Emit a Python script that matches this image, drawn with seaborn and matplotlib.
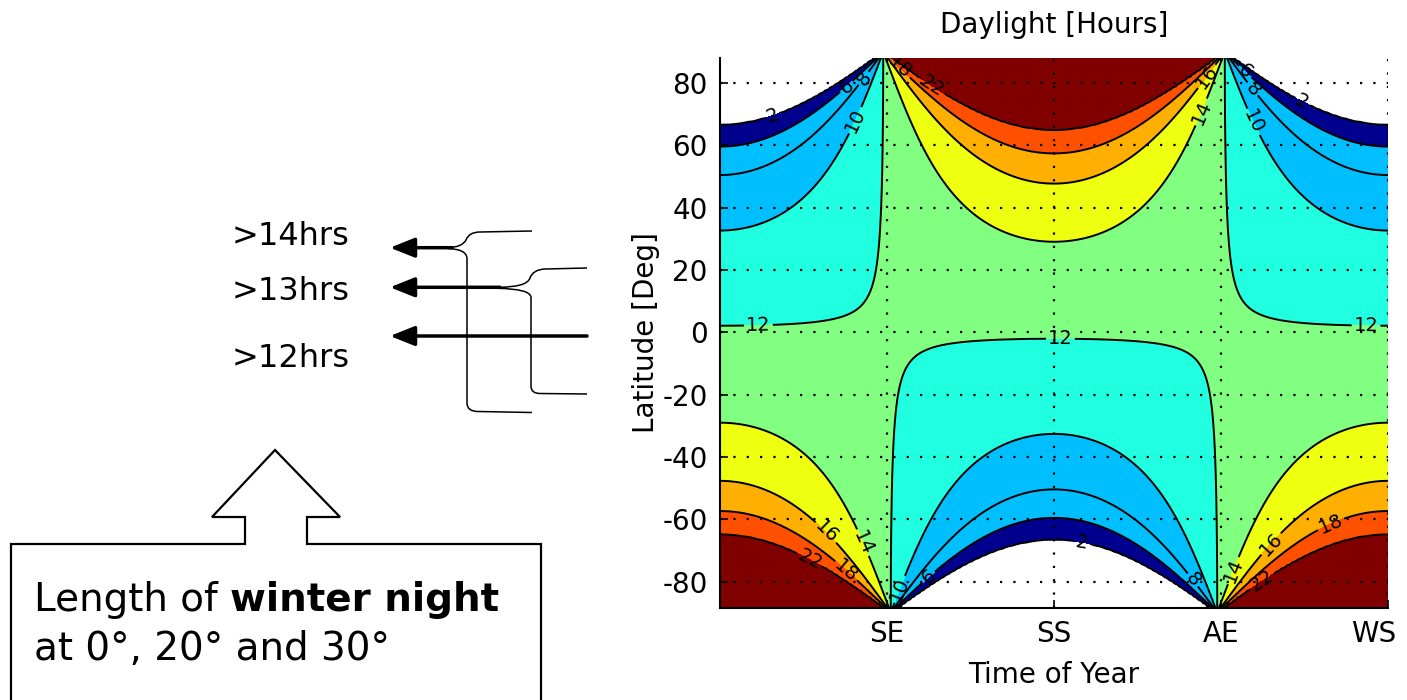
import numpy as np
import matplotlib
matplotlib.use("Agg")
import matplotlib.pyplot as plt
import matplotlib.transforms as mtransforms
import seaborn as sns
from matplotlib.colors import ListedColormap
from matplotlib.path import Path
from matplotlib.patches import PathPatch

# ---- daylight model constants ----
tilt_deg = 23.44          # earth axial tilt
horizon_deg = -0.833      # sun centre at sunrise/sunset (refraction)
year_days = 365

# contour levels (hours) and the band colours between them
hour_levels = [2, 6, 8, 10, 12, 14, 16, 18, 22]
band_colors = ["#00008f", "#0050ff", "#00bfff", "#20ffdf", "#80ff80",
               "#efff10", "#ffaf00", "#ff5000", "#800000"]

lat_ticks = [-80, -60, -40, -20, 0, 20, 40, 60, 80]
season_ticks = [91.25, 182.5, 273.75, 365]
season_labels = ["SE", "SS", "AE", "WS"]

hrs_labels = [">14hrs", ">13hrs", ">12hrs"]
box_plain = "Length of "
box_bold = "winter night"
box_line2 = "at 0\u00b0, 20\u00b0 and 30\u00b0"

# ---- compute day length grid (days since winter solstice x latitude) ----
days = np.arange(0, year_days + 1)
lats = np.linspace(-89.5, 89.5, 180)
T, L = np.meshgrid(days, lats)
decl = np.radians(-tilt_deg * np.cos(2 * np.pi * T / year_days))
phi = np.radians(L)
cos_h = (np.sin(np.radians(horizon_deg)) - np.sin(phi) * np.sin(decl)) / (np.cos(phi) * np.cos(decl))
daylight = 2 * np.degrees(np.arccos(np.clip(cos_h, -1, 1))) / 15.0

# ---- figure ----
sns.set_theme(style="white")
plt.rcParams["font.family"] = ["DejaVu Sans"]
plt.rcParams["axes.unicode_minus"] = False
for key in ["text.color", "axes.labelcolor", "xtick.color", "ytick.color"]:
    plt.rcParams[key] = "black"

W, H = 1407, 700
fig = plt.figure(figsize=(W / 100, H / 100), dpi=100)
ax = fig.add_axes([720 / W, 1 - 608 / H, 668 / W, 550 / H])

cmap = ListedColormap(sns.color_palette(band_colors))
fill_levels = hour_levels + [24.5]
ax.contourf(T, L, daylight, levels=fill_levels, cmap=cmap, vmin=2, vmax=24.5)
cs = ax.contour(T, L, daylight, levels=hour_levels, colors="black", linewidths=1.4)
ax.clabel(cs, fmt="%d", fontsize=14, inline=True, inline_spacing=2)

ax.set_xlim(0, year_days)
ax.set_ylim(-88.5, 88)
ax.set_xticks(season_ticks)
ax.set_xticklabels(season_labels)
ax.set_yticks(lat_ticks)
ax.tick_params(direction="in", length=6, width=1.2, labelsize=20, pad=9, colors="black",
               left=True, bottom=True)
ax.set_axisbelow(False)
ax.grid(True, color="black", linestyle=(0, (1, 5)), linewidth=1.6)
sns.despine(ax=ax, top=True, right=True)
for s in ["left", "bottom"]:
    ax.spines[s].set_color("black")
    ax.spines[s].set_linewidth(1.5)

# last label sits on the figure edge; nudge it in so it stays readable
ws_label = ax.get_xticklabels()[-1]
ws_label.set_transform(ws_label.get_transform() +
                       mtransforms.ScaledTranslation(-14 / 100, 0, fig.dpi_scale_trans))

ax.set_title("Daylight [Hours]", fontsize=20, pad=18)
ax.set_xlabel("Time of Year", fontsize=20, labelpad=9)
ax.set_ylabel("Latitude [Deg]", fontsize=20, labelpad=1.5)

# ---- annotation overlay in pixel coordinates ----
ann = fig.add_axes([0, 0, 1, 1], zorder=5)
ann.set_xlim(0, W)
ann.set_ylim(H, 0)
ann.axis("off")
ann.patch.set_alpha(0)

for label, base in zip(hrs_labels, [245, 300, 366.7]):
    ann.text(232, base, label, fontsize=23, va="baseline", ha="left", color="black")

arrow_rows = [(247.7, 452), (287.3, 500), (336, 587)]
for y, x_tail in arrow_rows:
    ann.annotate("", xy=(390, y), xytext=(x_tail, y),
                 arrowprops=dict(arrowstyle="-|>,head_length=0.75,head_width=0.3",
                                 lw=2.5, color="black", mutation_scale=20,
                                 shrinkA=0, shrinkB=0))

M, Ln, C = Path.MOVETO, Path.LINETO, Path.CURVE3
brace1 = Path(
    [(532, 231), (480, 232), (469, 232), (466, 240), (462, 247.5), (448, 247.5),
     (448, 248.5), (466, 249), (467, 258), (467, 403), (467, 411.5), (478, 411.5), (532, 412.5)],
    [M, Ln, C, C, C, C,
     M, C, C, Ln, C, C, Ln])
brace2 = Path(
    [(587, 268), (545, 269), (533, 269.5), (530, 278), (527, 287.3), (498, 287.3),
     (498, 288.3), (530, 289), (531, 297), (531, 386), (531, 393.5), (540, 393.5), (587, 394)],
    [M, Ln, C, C, C, C,
     M, C, C, Ln, C, C, Ln])
for p in (brace1, brace2):
    ann.add_patch(PathPatch(p, fill=False, lw=1.1, edgecolor="black"))

box_outline = [(11, 710), (11, 544), (245, 544), (245, 517), (212, 517), (275, 450),
               (340, 517), (307, 517), (307, 544), (541, 544), (541, 710)]
bx, by = zip(*box_outline)
ann.plot(bx, by, color="black", lw=1.6, solid_joinstyle="miter")

t1 = ann.text(34, 610.7, box_plain, fontsize=28, va="baseline", ha="left", color="black")
fig.canvas.draw()
bb = t1.get_window_extent()
ann.text(bb.x1, 610.7, box_bold, fontsize=28, fontweight="bold", va="baseline", ha="left",
         color="black")
ann.text(34, 659.6, box_line2, fontsize=28, va="baseline", ha="left", color="black")

fig.savefig("out.png", dpi=100)
